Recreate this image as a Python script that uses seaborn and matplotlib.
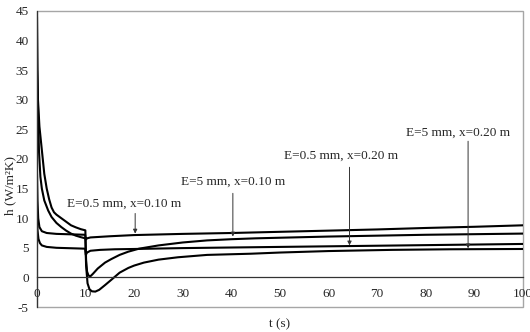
import matplotlib
matplotlib.use("Agg")
import matplotlib.pyplot as plt
import seaborn as sns
import pandas as pd
from matplotlib.patches import Rectangle

sns.set_style("white")
plt.rcParams['font.family'] = ['Liberation Serif', 'DejaVu Serif']

# --- data ---
t_a = [0, 0.1, 0.25, 0.5, 1, 2, 4, 6, 8, 9.9, 10.05, 10.3, 11, 15, 20, 30, 40, 50, 60, 70, 80, 90, 100]
h_a = [17.5, 13, 10, 8.5, 7.8, 7.5, 7.35, 7.3, 7.25, 7.2, 6.4, 6.6, 6.75, 6.95, 7.15, 7.35, 7.5, 7.7, 7.9, 8.1, 8.35, 8.55, 8.8]

t_b = [0, 0.1, 0.3, 0.6, 1, 2, 4, 6, 8, 9.9, 10.05, 10.3, 11, 13, 16, 20, 30, 40, 50, 60, 70, 80, 90, 100]
h_b = [10, 8, 6.5, 5.8, 5.4, 5.15, 5.0, 4.95, 4.9, 4.85, 3.8, 4.2, 4.5, 4.65, 4.75, 4.8, 4.95, 5.05, 5.15, 5.25, 5.35, 5.45, 5.55, 5.65]

t_c = [0, 0.2, 0.5, 1.0, 1.5, 2, 2.5, 3, 3.5, 4, 5, 6, 7, 8, 9, 9.95,
       10.1, 10.3, 10.6, 11, 11.5, 12.5, 14, 15.3, 17, 18.8, 21, 25, 30, 35, 40, 45, 50, 60, 70, 80, 90, 100]
h_c = [35, 30, 25.5, 21.5, 17.5, 15, 13.2, 11.8, 11.0, 10.6, 10.0, 9.4, 8.8, 8.45, 8.15, 7.95,
       3.0, 1.0, 0.3, 0.2, 0.6, 1.5, 2.5, 3.1, 3.8, 4.35, 4.85, 5.4, 5.9, 6.25, 6.45, 6.6, 6.7, 6.9, 7.05, 7.2, 7.3, 7.4]

t_d = [0, 0.1, 0.2, 0.4, 0.7, 1, 1.5, 2.3, 3, 4, 5, 6, 7, 8, 9, 9.95,
       10.1, 10.4, 10.8, 11.3, 12, 12.8, 14, 15.3, 17, 18.8, 20, 22, 25, 29, 35, 44, 50, 60, 73, 85, 100]
h_d = [44, 36, 29, 21.5, 17, 15, 13, 11.3, 10.2, 9.2, 8.5, 7.9, 7.4, 7.05, 6.8, 6.6,
       2.0, -1.0, -2.0, -2.35, -2.4, -2.1, -1.3, -0.4, 0.8, 1.6, 2.0, 2.5, 3.0, 3.4, 3.8, 4.0, 4.2, 4.45, 4.65, 4.75, 4.8]

curve_names = ["E=0.5 mm, x=0.10 m", "E=0.5 mm, x=0.20 m", "E=5 mm, x=0.10 m", "E=5 mm, x=0.20 m"]
x_ticks = list(range(0, 101, 10))
y_ticks = list(range(-5, 46, 5))

frames = []
for name, t, h in zip(curve_names, [t_a, t_b, t_c, t_d], [h_a, h_b, h_c, h_d]):
    frames.append(pd.DataFrame({"t": t, "h": h, "curve": name}))
df = pd.concat(frames, ignore_index=True)

fig = plt.figure(figsize=(5.3, 3.32), dpi=100)
ax = fig.add_axes([0.0698, 0.0753, 0.9170, 0.8916])

sns.lineplot(data=df, x="t", y="h", units="curve", estimator=None,
             color="black", lw=1.5, ax=ax, legend=False)

ax.set_xlim(0, 100)
ax.set_ylim(-5, 45)
ax.set_xticks(x_ticks)
ax.set_yticks(y_ticks)
ax.set_xticklabels([str(v) for v in x_ticks])
ax.set_yticklabels([str(v) for v in y_ticks])

# axes frame: grey border, dark y axis, x axis at h=0
for s in ["top", "right"]:
    ax.spines[s].set_visible(False)
ax.spines["left"].set_color("#333333")
ax.spines["left"].set_linewidth(0.9)
ax.spines["bottom"].set_position(("data", 0))
ax.spines["bottom"].set_color("#333333")
ax.spines["bottom"].set_linewidth(0.9)
ax.add_patch(Rectangle((0, 0), 1, 1, transform=ax.transAxes, fill=False,
                       edgecolor="#a6a6a6", lw=1.0, clip_on=False, zorder=0))

ax.tick_params(axis="both", direction="out", length=3.5, width=0.8, color="#333333",
               labelsize=9.5, pad=2.5)
ax.tick_params(axis="x", pad=4)

ax.set_xlabel("t (s)", fontsize=9.5)
ax.set_ylabel("h (W/m²K)", fontsize=9.5)
ax.xaxis.set_label_coords(0.5, -0.038)
ax.yaxis.set_label_coords(-0.042, 0.41)

# annotations
ann = [
    ("E=0.5 mm, x=0.10 m", 18.0, 12.5, 20.2, 10.8, 7.4),
    ("E=5 mm, x=0.10 m", 40.4, 16.2, 40.3, 14.2, 6.9),
    ("E=0.5 mm, x=0.20 m", 62.6, 20.5, 64.3, 18.6, 5.4),
    ("E=5 mm, x=0.20 m", 86.7, 24.5, 88.7, 23.0, 4.9),
]
for txt, tx, ty, axx, ay0, ay1 in ann:
    ax.text(tx, ty, txt, ha="center", va="center", fontsize=9.5)
    ax.annotate("", xy=(axx, ay1), xytext=(axx, ay0),
                arrowprops=dict(arrowstyle="-|>", lw=0.7, color="#333333",
                                mutation_scale=6, shrinkA=0, shrinkB=0))

fig.savefig("out.png", dpi=100)
